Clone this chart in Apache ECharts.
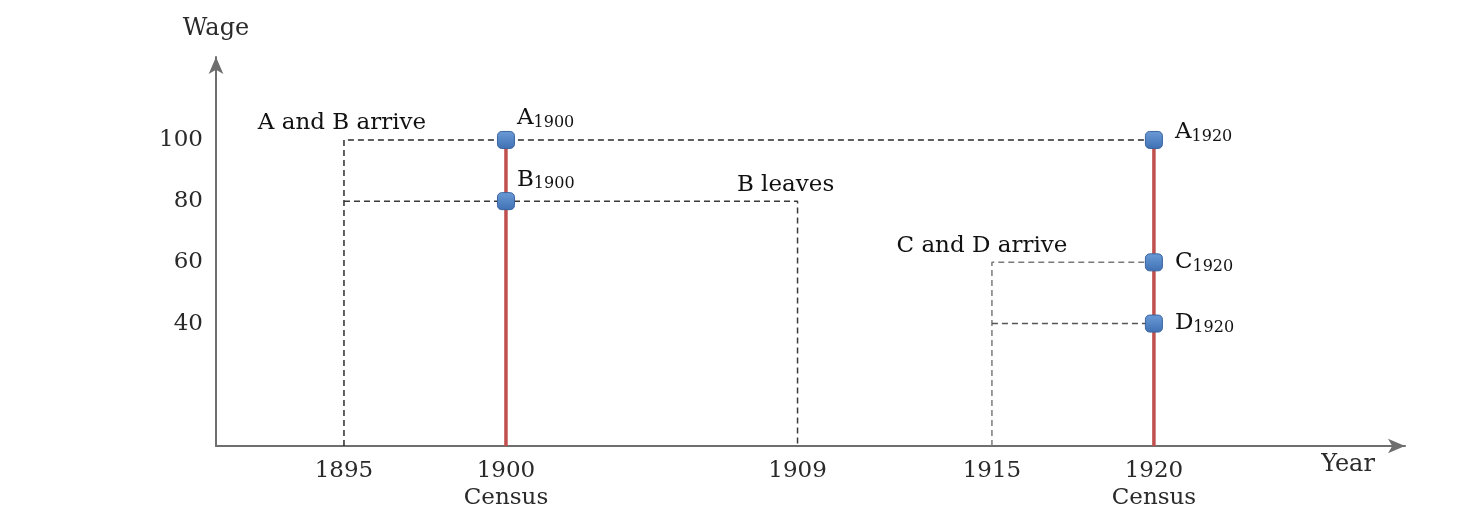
<!DOCTYPE html>
<html>
<head>
<meta charset="utf-8">
<script src="https://cdn.jsdelivr.net/npm/echarts@6/dist/echarts.min.js"></script>
<style>
  html, body { margin: 0; padding: 0; background: #ffffff; }
  #chart { width: 1467px; height: 518px; }
</style>
</head>
<body>
<div id="chart"></div>
<script>
// ---- data ----
const xTickYears = [1895, 1900, 1909, 1915, 1920];
const censusYears = [1900, 1920];
const yTickWages = [40, 60, 80, 100];

// worker paths (year, wage)
const pathAB_top = [[1895, 0], [1895, 100], [1920, 100]];      // A arrives 1895, wage 100
const pathB = [[1895, 80], [1909, 80], [1909, 0]];              // B arrives 1895 wage 80, leaves 1909
const pathC = [[1915, 0], [1915, 60], [1920, 60]];              // C arrives 1915 wage 60
const pathD = [[1915, 40], [1920, 40]];                         // D arrives 1915 wage 40

// census observations
const censusPointNames = ['A', 'B', 'A', 'C', 'D'];
const censusPointYears = [1900, 1900, 1920, 1920, 1920];
const censusPointWages = [100, 80, 100, 60, 40];

// census vertical lines
const census1900Line = [[1900, 0], [1900, 100]];
const census1920Line = [[1920, 0], [1920, 100]];

// annotation texts
const annotationTexts = ['A and B arrive', 'B leaves', 'C and D arrive'];
const annotationYears = [1895, 1909, 1915];
const annotationWages = [100, 80, 60];

// ---- chart ----
const FONT = '"DejaVu Serif", "Liberation Serif", serif';
const TXT = '#2a2a2a';
const LBL = '#111111';
const AX = '#6e6e6e';

const chart = echarts.init(document.getElementById('chart'), null, { renderer: 'canvas' });

const dashStyle = (color) => ({ color: color, width: 1.5, type: [6, 4] });

function lineSeries(data, style) {
  return {
    type: 'line', data: data, symbol: 'none', silent: true,
    lineStyle: style, z: 2, animation: false
  };
}

const richSub = {
  b: { fontFamily: FONT, fontSize: 23, color: LBL, opacity: 1, lineHeight: 24, verticalAlign: 'top', textBorderWidth: 0 },
  s: { fontFamily: FONT, fontSize: 16, color: LBL, opacity: 1, lineHeight: 16, verticalAlign: 'top', padding: [8, 0, 0, 0], textBorderWidth: 0 }
};

const pointData = censusPointNames.map((n, i) => {
  const yr = censusPointYears[i];
  const is1900 = yr === 1900;
  let offset = is1900 ? [0, -21] : [0, 0];
  if (!is1900 && censusPointWages[i] === 100) offset = [0, -7];
  return {
    value: [yr, censusPointWages[i]],
    label: {
      show: true,
      position: 'right',
      distance: is1900 ? 2 : 12,
      offset: offset,
      color: LBL,
      opacity: 1,
      textBorderWidth: 0,
      formatter: '{b|' + n + '}{s|' + yr + '}',
      rich: richSub
    }
  };
});

const annotationOffsets = [[-2, 0], [-12, 0], [-10, 0]];
const annotationData = annotationTexts.map((t, i) => ({
  value: [annotationYears[i], annotationWages[i]],
  label: {
    show: true, position: 'top', distance: 5, offset: annotationOffsets[i], opacity: 1,
    formatter: t, fontFamily: FONT, fontSize: 23, color: LBL, textBorderWidth: 0
  }
}));

const option = {
  backgroundColor: '#ffffff',
  animation: false,
  grid: { left: 216, right: 62, top: 57, bottom: 72, containLabel: false },
  xAxis: {
    type: 'value',
    min: 1891.05, max: 1927.75,
    name: 'Year',
    nameLocation: 'end',
    nameGap: -57,
    nameTextStyle: { fontFamily: FONT, fontSize: 24, color: TXT, align: 'center', verticalAlign: 'top', padding: [7, 0, 0, 0] },
    axisLine: { onZero: false, show: true, lineStyle: { color: AX, width: 2 }, symbol: ['none', 'arrow'], symbolSize: [11, 17] },
    axisTick: { show: false },
    splitLine: { show: false },
    axisLabel: {
      customValues: xTickYears,
      margin: 12,
      fontFamily: FONT, fontSize: 23, color: TXT, lineHeight: 27,
      formatter: (v) => censusYears.includes(v) ? v + '\nCensus' : String(v)
    }
  },
  yAxis: {
    type: 'value',
    min: 0, max: 127.1,
    name: 'Wage',
    nameLocation: 'end',
    nameGap: 16,
    nameTextStyle: { fontFamily: FONT, fontSize: 24, color: TXT, align: 'center', verticalAlign: 'bottom' },
    axisLine: { onZero: false, show: true, lineStyle: { color: AX, width: 2 }, symbol: ['none', 'arrow'], symbolSize: [11, 17] },
    axisTick: { show: false },
    splitLine: { show: false },
    axisLabel: {
      customValues: yTickWages,
      margin: 13,
      fontFamily: FONT, fontSize: 23, color: TXT
    }
  },
  series: [
    lineSeries(pathAB_top, dashStyle('#2b2b2b')),
    lineSeries(pathB, dashStyle('#3a3a3a')),
    lineSeries(pathC, dashStyle('#7a7a7a')),
    lineSeries(pathD, dashStyle('#555555')),
    Object.assign(lineSeries(census1900Line, { color: '#c0504d', width: 3.5 }), { z: 3 }),
    Object.assign(lineSeries(census1920Line, { color: '#c0504d', width: 3.5 }), { z: 3 }),
    {
      type: 'scatter', data: pointData, symbol: 'roundRect', symbolSize: 17, z: 5,
      itemStyle: {
        opacity: 1,
        color: new echarts.graphic.LinearGradient(0, 0, 0, 1, [
          { offset: 0, color: '#6b9bd6' }, { offset: 1, color: '#3f70b3' }
        ]),
        borderColor: '#3a64a0', borderWidth: 1
      },
      silent: true
    },
    {
      type: 'scatter', data: annotationData, symbolSize: 0, z: 6, silent: true,
      itemStyle: { opacity: 1 }
    }
  ]
};

chart.setOption(option);
</script>
</body>
</html>
